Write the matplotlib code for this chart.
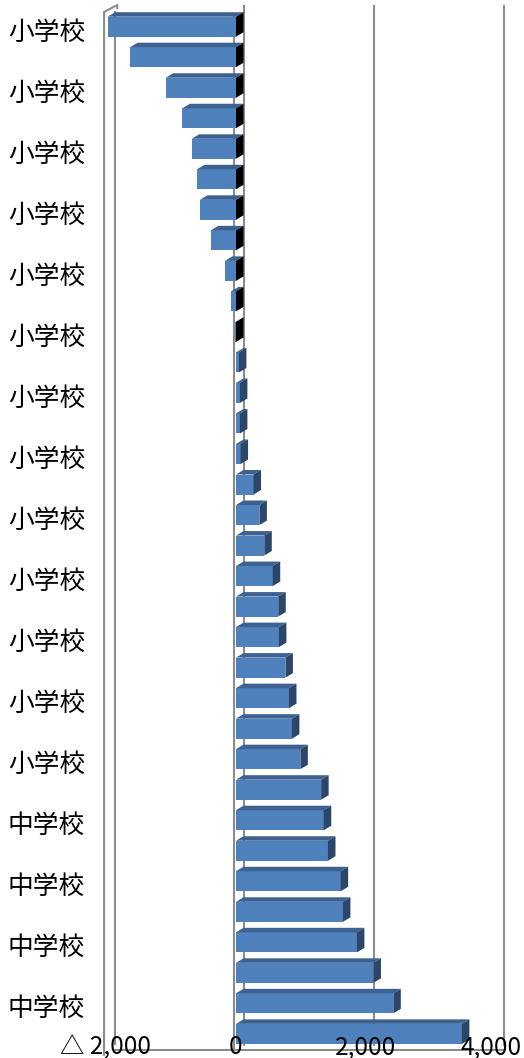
import matplotlib
matplotlib.use('Agg')
import matplotlib.pyplot as plt
from matplotlib.patches import Polygon
from matplotlib.transforms import ScaledTranslation
import numpy as np

plt.rcParams['font.family'] = ['Noto Sans CJK JP', 'DejaVu Sans']

# ---- data ----
categories = ['小学校'] * 26 + ['中学校'] * 8
values = [-1975, -1630, -1080, -825, -680, -600, -555, -385, -170, -75,
          -10, 45, 60, 60, 70, 270, 360, 435, 565, 650,
          660, 760, 815, 860, 990, 1310, 1350, 1415, 1610, 1645,
          1860, 2115, 2420, 3475]
xtick_values = [-2000, 0, 2000, 4000]
xtick_labels = ['△ 2,000', '0', '2,000', '4,000']

# ---- layout (pixels) ----
W, H = 524, 1058
zero_px = 236.0
px_per_unit = 130.0 / 2000.0
xmin, xmax = -2000, 4000
left_px = zero_px + xmin * px_per_unit
right_px = zero_px + xmax * px_per_unit
top_px, bottom_px = 12.0, 1050.0
y0_px, pitch = 26.7, 30.52

fig = plt.figure(figsize=(W / 100, H / 100), dpi=100)
fig.patch.set_facecolor('white')
ax = fig.add_axes([left_px / W, (H - bottom_px) / H,
                   (right_px - left_px) / W, (bottom_px - top_px) / H])
ax.set_facecolor('none')
for s in ax.spines.values():
    s.set_visible(False)

n = len(values)
idx = np.arange(n)
ax.set_xlim(xmin, xmax)
ylim_bottom = (bottom_px - y0_px) / pitch
ylim_top = (top_px - y0_px) / pitch
ax.set_ylim(ylim_bottom, ylim_top)

dxd = 7.5 / px_per_unit
dyd = -4.5 / pitch
bh = 20.0 / pitch

grid_c = '#8c8c8c'
glw = 1.5
top_back = (5.0 - y0_px) / pitch
bottom_back = (1045.5 - y0_px) / pitch

# back wall gridlines
for gv in xtick_values[1:]:
    ax.plot([gv + dxd, gv + dxd], [top_back, bottom_back], color=grid_c,
            lw=glw, zorder=1, clip_on=False, solid_capstyle='butt')
# left side wall
ax.plot([xmin - 30, xmin - 30, xmin + dxd * 1.5, xmin + dxd * 1.5],
        [ylim_bottom + 0.15, ylim_top, top_back, top_back + 0.1],
        color=grid_c, lw=glw, zorder=1, clip_on=False)
ax.plot([xmin + dxd * 1.2, xmin + dxd * 1.2], [ylim_top, bottom_back - 0.05],
        color=grid_c, lw=glw, zorder=1, clip_on=False)
# floor front edge
ax.plot([xmin + dxd, xmax + dxd], [ylim_bottom, ylim_bottom], color=grid_c,
        lw=glw, zorder=1, clip_on=False)
# category axis line at zero
ax.plot([-30, -30], [ylim_top + 0.1, ylim_bottom], color=grid_c, lw=glw,
        zorder=2, clip_on=False)

# bars (front faces)
ax.barh(idx, values, height=bh, color='#4f81bd', zorder=3)
for i, v in zip(idx, values):
    x0, x1 = min(0, v), max(0, v)
    yt, yb = i - bh / 2, i + bh / 2
    topf = Polygon([(x0, yt), (x1, yt), (x1 + dxd, yt + dyd), (x0 + dxd, yt + dyd)],
                   closed=True, fc='#3d6191', ec='none', zorder=3, clip_on=False)
    side = Polygon([(x1, yt), (x1 + dxd, yt + dyd), (x1 + dxd, yb + dyd), (x1, yb)],
                   closed=True, fc=('#000000' if v < 0 else '#2b4668'),
                   ec='none', zorder=3, clip_on=False)
    ax.add_patch(topf)
    ax.add_patch(side)

# y tick labels (every other category)
ax.set_yticks(idx[::2], categories[::2])
ax.tick_params(axis='y', length=0, pad=15, labelsize=18.5)
off = ScaledTranslation(0, -3 / 100, fig.dpi_scale_trans)
for lab in ax.get_yticklabels():
    lab.set_transform(lab.get_transform() + off)

# x tick labels
ax.set_xticks([])
base_y = (bottom_px - 1054.0) / (bottom_px - top_px)
xtr = ax.get_xaxis_transform()
for k, (xv, xl) in enumerate(zip(xtick_values, xtick_labels)):
    if k == len(xtick_values) - 1:
        # keep the last label inside the figure edge
        tr = xtr + ScaledTranslation(26 / 100, 0, fig.dpi_scale_trans)
        ha = 'right'
    else:
        tr = xtr
        ha = 'center'
    ax.text(xv, base_y, xl, transform=tr, ha=ha,
            va='baseline', fontsize=17.5, zorder=5, clip_on=False)

fig.savefig('out.png', dpi=100, facecolor='white')
